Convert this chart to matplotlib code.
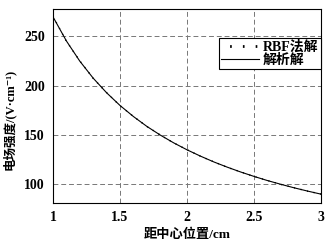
import matplotlib.pyplot as plt
import numpy as np

# distance from centre (cm) and field strength (V/cm)
r_cm = [1.0, 1.1, 1.2, 1.3, 1.4, 1.5, 1.6, 1.7, 1.8, 1.9, 2.0,
        2.1, 2.2, 2.3, 2.4, 2.5, 2.6, 2.7, 2.8, 2.9, 3.0]
e_exact = [270, 245.5, 225, 207.7, 192.9, 180, 168.8, 158.8, 150, 142.1, 135,
           128.6, 122.7, 117.4, 112.5, 108, 103.8, 100, 96.4, 93.1, 90]
e_rbf = [270.5, 245.2, 225.3, 207.5, 193.1, 179.8, 168.9, 158.7, 150.1, 142.0, 135.1,
         128.5, 122.8, 117.3, 112.6, 107.9, 103.9, 99.9, 96.5, 93.0, 90.1]

xticks = [1, 1.5, 2, 2.5, 3]
xtick_labels = ['1', '1.5', '2', '2.5', '3']
yticks = [100, 150, 200, 250]

fam = ['Liberation Serif', 'Noto Sans CJK SC', 'DejaVu Sans']
plt.rcParams['font.family'] = fam

fig = plt.figure(figsize=(3.29, 2.47), dpi=100)
ax = fig.add_axes([0.161, 0.178, 0.815, 0.786])

ax.plot(r_cm, e_rbf, linestyle=(0, (0.8, 4)), color='black', linewidth=1.0, label='RBF法解')
ax.plot(r_cm, e_exact, linestyle='-', color='black', linewidth=0.8, label='解析解')

ax.set_xlim(1, 3)
ax.set_ylim(81, 278)
ax.set_xticks(xticks)
ax.set_xticklabels(xtick_labels)
ax.set_yticks(yticks)
ax.tick_params(length=0, labelsize=10, pad=6)
for lab in ax.get_xticklabels() + ax.get_yticklabels():
    lab.set_fontweight('bold')

ax.grid(True, linestyle=(0, (5, 3)), color='#777777', linewidth=0.7)
for s in ax.spines.values():
    s.set_linewidth(0.8)

ax.set_xlabel('距中心位置/cm', fontsize=9.5, fontweight='bold', labelpad=3)
ax.set_ylabel('电场强度/(V·cm⁻¹)', fontsize=9, fontweight='bold')
ax.yaxis.set_label_coords(-0.14, 0.43)

leg = ax.legend(loc='upper right', bbox_to_anchor=(0.998, 0.85),
                frameon=True, fancybox=False, framealpha=1, edgecolor='black',
                borderpad=0.15, labelspacing=0.05, handlelength=2.7, handletextpad=0.3,
                borderaxespad=0.0, prop={'family': fam, 'weight': 'bold', 'size': 10})
leg.get_frame().set_linewidth(0.8)
leg.get_lines()[0].set_linewidth(2.0)
leg.get_lines()[0].set_linestyle((1.5, (0.6, 4.0)))

fig.savefig('out.png', dpi=100)
